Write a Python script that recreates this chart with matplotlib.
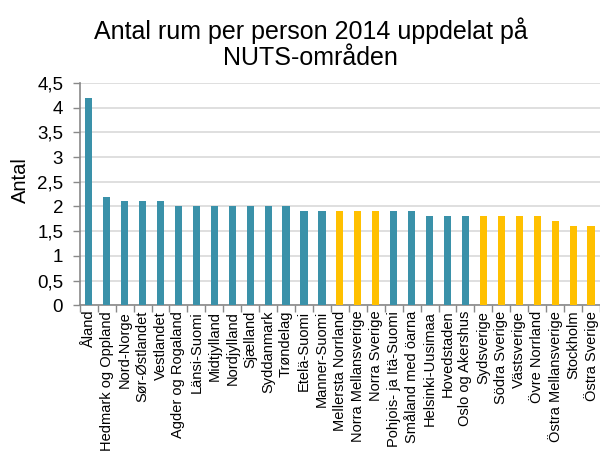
import numpy as np
import matplotlib
matplotlib.use("Agg")
import matplotlib.pyplot as plt

plt.rcParams['font.family'] = ['Liberation Sans', 'DejaVu Sans']

regions = ['Åland', 'Hedmark og Oppland', 'Nord-Norge', 'Sør-Østlandet', 'Vestlandet',
           'Agder og Rogaland', 'Länsi-Suomi', 'Midtjylland', 'Nordjylland', 'Sjælland',
           'Syddanmark', 'Trøndelag', 'Etelä-Suomi', 'Manner-Suomi', 'Mellersta Norrland',
           'Norra Mellansverige', 'Norra Sverige', 'Pohjois- ja Itä-Suomi', 'Småland med öarna',
           'Helsinki-Uusimaa', 'Hovedstaden', 'Oslo og Akershus', 'Sydsverige', 'Södra Sverige',
           'Västsverige', 'Övre Norrland', 'Östra Mellansverige', 'Stockholm', 'Östra Sverige']
rooms = [4.2, 2.2, 2.1, 2.1, 2.1,
         2.0, 2.0, 2.0, 2.0, 2.0,
         2.0, 2.0, 1.9, 1.9, 1.9,
         1.9, 1.9, 1.9, 1.9,
         1.8, 1.8, 1.8, 1.8, 1.8,
         1.8, 1.8, 1.7, 1.6, 1.6]
# Swedish regions highlighted
swedish = ['Mellersta Norrland', 'Norra Mellansverige', 'Norra Sverige', 'Sydsverige',
           'Södra Sverige', 'Västsverige', 'Övre Norrland', 'Östra Mellansverige',
           'Stockholm', 'Östra Sverige']

blue = '#3A91A9'
yellow = '#FFC000'
colors = [yellow if r in swedish else blue for r in regions]

fig = plt.figure(figsize=(6.0, 4.66), dpi=100)
ax = fig.add_axes([0.133, 0.345, 0.867, 0.477])

x = np.arange(len(regions))
ax.bar(x, rooms, width=0.4, color=colors, zorder=3)

ax.set_xlim(-0.5, len(regions) - 0.5)
ax.set_ylim(0, 4.5)
yt = np.arange(0, 4.51, 0.5)
ax.set_yticks(yt)
ax.set_yticklabels([f'{v:g}'.replace('.', ',') for v in yt], fontsize=13.5)

ax.set_xticks(x)
ax.set_xticklabels(regions, rotation=90, fontsize=10.5)
ax.set_xticks(np.arange(-0.5, len(regions)), minor=True)
ax.tick_params(axis='x', which='major', length=0, pad=4)
ax.tick_params(axis='x', which='minor', length=5, color='#898989', width=1)
ax.tick_params(axis='y', length=5, color='#898989', width=1, pad=7)

ax.grid(axis='y', color='#D9D9D9', linewidth=1.2, zorder=0)
for s in ['top', 'right']:
    ax.spines[s].set_visible(False)
for s in ['left', 'bottom']:
    ax.spines[s].set_color('#898989')
    ax.spines[s].set_linewidth(1.2)

fig.text(0.034, 0.614, 'Antal', rotation=90, ha='center', va='center', fontsize=14.5)
fig.text(0.518, 0.962, 'Antal rum per person 2014 uppdelat på\nNUTS-områden',
         ha='center', va='top', fontsize=18, linespacing=1.08)

fig.savefig('out.png', dpi=100)
